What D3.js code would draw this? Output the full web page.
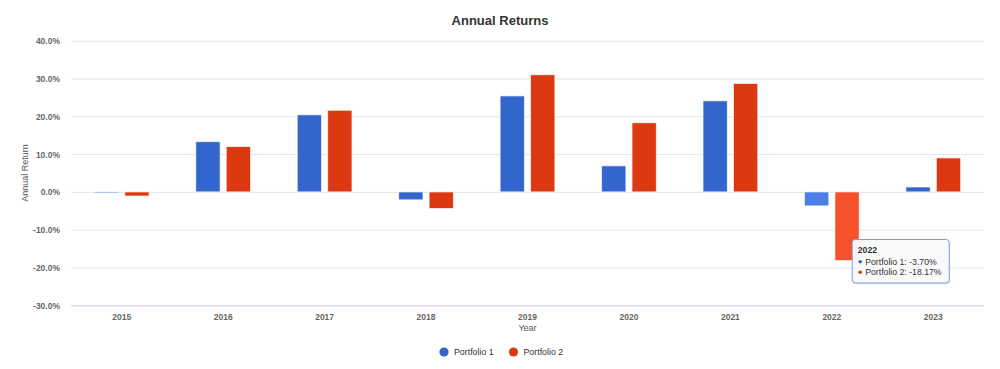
<!DOCTYPE html>
<html>
<head>
<meta charset="utf-8">
<script src="https://cdn.jsdelivr.net/npm/d3@7"></script>
<style>
  body { margin: 0; background: #fff; }
  svg { font-family: "Liberation Sans", Arial, sans-serif; display: block; }
  .gridlines line { stroke: #e6e6e6; }
  .gridlines path { display: none; }
  .axis path, .axis line { display: none; }
  .axis text { fill: #666; font-size: 8.5px; font-weight: bold; }
</style>
</head>
<body>
<svg id="chart" width="1000" height="369"></svg>
<script>
// data
const years = ["2015", "2016", "2017", "2018", "2019", "2020", "2021", "2022", "2023"];
const seriesNames = ["Portfolio 1", "Portfolio 2"];
const portfolio1 = [-0.3, 13.3, 20.4, -2.1, 25.4, 6.9, 24.1, -3.70, 1.3];
const portfolio2 = [-1.1, 12.0, 21.6, -4.4, 31.0, 18.3, 28.7, -18.17, 9.0];
const yTicks = [-30, -20, -10, 0, 10, 20, 30, 40];
const colors = ["#3366cc", "#dc3912"];
const hoverColors = ["#4c7fe5", "#f5522b"];
const hoverYear = "2022";

const svg = d3.select("svg#chart");
const width = +svg.attr("width");

const margins = { top: 40.7, left: 71, right: 16, bottom: 63.7 };
const chartWidth = width - margins.left - margins.right;
const chartHeight = +svg.attr("height") - margins.top - margins.bottom;

const rows = years.map((y, i) => ({ year: y, values: [portfolio1[i], portfolio2[i]] }));

const xScale = d3.scaleBand().domain(years).range([0, chartWidth]).padding(0);
const bw = xScale.bandwidth();
const xSub = d3.scaleBand()
  .domain([0, 1])
  .range([bw * 0.2, bw * 0.8])
  .paddingInner(0.2)
  .paddingOuter(0.1);

const yScale = d3.scaleLinear().domain([-30, 40]).range([chartHeight, 0]);

const chartArea = svg.append("g")
  .attr("transform", `translate(${margins.left},${margins.top})`);

// gridlines
chartArea.append("g")
  .attr("class", "gridlines")
  .call(d3.axisLeft(yScale).tickValues(yTicks).tickSize(-chartWidth).tickFormat(""));

// bottom axis line
chartArea.append("line")
  .attr("x1", 0).attr("x2", chartWidth)
  .attr("y1", yScale(-30) + 0.5).attr("y2", yScale(-30) + 0.5)
  .attr("stroke", "#ccd6eb");

// y axis labels
chartArea.append("g")
  .attr("class", "axis")
  .attr("transform", "translate(-8,0)")
  .call(d3.axisLeft(yScale).tickValues(yTicks).tickSize(0).tickFormat(d => d.toFixed(1) + "%"))
  .selectAll("text").attr("dy", "0.35em");

// x axis labels
chartArea.append("g")
  .attr("class", "axis")
  .attr("transform", `translate(0,${chartHeight + 6})`)
  .call(d3.axisBottom(xScale).tickSize(0));

// bars
const groups = chartArea.selectAll("g.year")
  .data(rows)
  .join("g")
  .attr("class", "year")
  .attr("transform", d => `translate(${xScale(d.year)},0)`);

groups.selectAll("rect")
  .data(d => d.values.map((v, i) => ({ v, i, year: d.year })))
  .join("rect")
  .attr("x", d => xSub(d.i))
  .attr("width", xSub.bandwidth())
  .attr("y", d => yScale(Math.max(0, d.v)))
  .attr("height", d => Math.abs(yScale(d.v) - yScale(0)))
  .attr("fill", d => d.year === hoverYear ? hoverColors[d.i] : colors[d.i])
  .attr("stroke", "#fff")
  .attr("stroke-opacity", 0.7)
  .attr("stroke-width", 1);

// title
svg.append("text")
  .attr("x", width / 2).attr("y", 25)
  .attr("text-anchor", "middle")
  .attr("font-size", "13px").attr("font-weight", "bold")
  .attr("fill", "#333")
  .text("Annual Returns");

// axis titles
svg.append("text")
  .attr("transform", `translate(28,${margins.top + chartHeight / 2}) rotate(-90)`)
  .attr("text-anchor", "middle")
  .attr("font-size", "9px").attr("fill", "#555")
  .text("Annual Return");

svg.append("text")
  .attr("x", margins.left + chartWidth / 2).attr("y", 331)
  .attr("text-anchor", "middle")
  .attr("font-size", "9px").attr("fill", "#555")
  .text("Year");

// legend
const legend = svg.append("g").attr("transform", "translate(444,352)");
const legendItems = legend.selectAll("g")
  .data(seriesNames)
  .join("g")
  .attr("transform", (d, i) => `translate(${i * 69.5},0)`);
legendItems.append("circle").attr("r", 4.6).attr("fill", (d, i) => colors[i]);
legendItems.append("text")
  .attr("x", 10).attr("dy", "0.35em")
  .attr("font-size", "8.8px").attr("fill", "#333")
  .text(d => d);

// tooltip for hovered year
const hi = years.indexOf(hoverYear);
const tipX = margins.left + xScale(hoverYear) + xSub(1) + xSub.bandwidth() - 7.5;
const tipY = 239;
const tip = svg.append("g").attr("transform", `translate(${tipX},${tipY})`);
tip.append("rect")
  .attr("x", 1.5).attr("y", 1.5).attr("width", 97).attr("height", 44)
  .attr("rx", 3).attr("fill", "#000").attr("opacity", 0.08);
tip.append("rect")
  .attr("x", 0.5).attr("y", 0.5).attr("width", 97).attr("height", 43.5)
  .attr("rx", 3)
  .attr("fill", "#f9f9f9").attr("fill-opacity", 0.97)
  .attr("stroke", "#7c9be0").attr("stroke-width", 1);
tip.append("text")
  .attr("x", 6).attr("y", 13.5)
  .attr("font-size", "8.7px").attr("font-weight", "bold").attr("fill", "#333")
  .text(hoverYear);
const tipVals = [portfolio1[hi], portfolio2[hi]];
seriesNames.forEach((name, i) => {
  const ty = 22.7 + i * 10.6;
  tip.append("circle").attr("cx", 8.5).attr("cy", ty).attr("r", 1.8).attr("fill", colors[i]);
  tip.append("text")
    .attr("x", 13.5).attr("y", ty).attr("dy", "0.35em")
    .attr("font-size", "8.7px").attr("fill", "#333")
    .text(`${name}: ${tipVals[i].toFixed(2)}%`);
});
</script>
</body>
</html>
